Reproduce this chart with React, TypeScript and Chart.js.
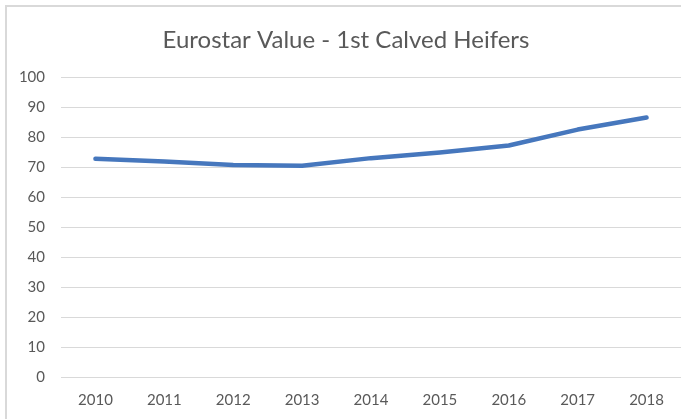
import React, { useEffect, useRef } from "react";
import { Chart, registerables } from "chart.js";

Chart.register(...registerables);

const titleText = "Eurostar Value - 1st Calved Heifers";
const years = ["2010", "2011", "2012", "2013", "2014", "2015", "2016", "2017", "2018"];
const values = [72.8, 71.9, 70.7, 70.5, 73.0, 74.9, 77.2, 82.5, 86.5];
const yMin = 0;
const yMax = 100;
const yStep = 10;

const FONT = "Lato, 'Open Sans', sans-serif";
const TEXT = "#595959";
const GRID = "#d9d9d9";

export default function App() {
  const ref = useRef<HTMLCanvasElement | null>(null);

  useEffect(() => {
    document.body.style.margin = "0";
    const canvas = ref.current;
    if (!canvas) return;

    const framePlugin = {
      id: "frame",
      beforeDraw(chart: any) {
        const ctx = chart.ctx;
        ctx.save();
        ctx.fillStyle = "#ffffff";
        ctx.fillRect(0, 0, chart.width, chart.height);
        ctx.strokeStyle = GRID;
        ctx.lineWidth = 2;
        ctx.beginPath();
        ctx.moveTo(6, chart.height);
        ctx.lineTo(6, 6);
        ctx.lineTo(chart.width, 6);
        ctx.stroke();
        ctx.fillStyle = TEXT;
        ctx.font = `24px ${FONT}`;
        ctx.textAlign = "center";
        ctx.textBaseline = "middle";
        ctx.fillText(titleText, 346, 40);
        ctx.restore();
      },
    };

    const chart = new Chart(canvas, {
      type: "line",
      data: {
        labels: years,
        datasets: [
          {
            data: values,
            borderColor: "#4677BD",
            backgroundColor: "#4677BD",
            borderWidth: 4.5,
            borderCapStyle: "round",
            borderJoinStyle: "round",
            pointRadius: 0,
            tension: 0,
            fill: false,
          },
        ],
      },
      options: {
        responsive: false,
        animation: false,
        layout: { padding: { top: 77, left: 6, right: 0, bottom: 0 } },
        plugins: {
          legend: { display: false },
          title: { display: false },
          tooltip: { enabled: false },
        },
        scales: {
          x: {
            type: "category",
            offset: true,
            grid: { display: false, drawTicks: false },
            border: { display: false },
            ticks: {
              color: TEXT,
              font: { family: FONT, size: 15 },
              padding: 14,
              maxRotation: 0,
            },
            afterFit(scale: any) {
              scale.height = 41.5;
            },
          },
          y: {
            min: yMin,
            max: yMax,
            grid: { color: GRID, lineWidth: 1, drawTicks: false },
            border: { display: false },
            ticks: {
              stepSize: yStep,
              color: TEXT,
              font: { family: FONT, size: 15 },
              padding: 16,
            },
            afterFit(scale: any) {
              scale.width = 55;
            },
          },
        },
      },
      plugins: [framePlugin],
    } as any);

    return () => chart.destroy();
  }, []);

  return (
    <div style={{ position: "absolute", left: 0, top: 0, width: 681, height: 419 }}>
      <canvas ref={ref} width={681} height={419} />
    </div>
  );
}
